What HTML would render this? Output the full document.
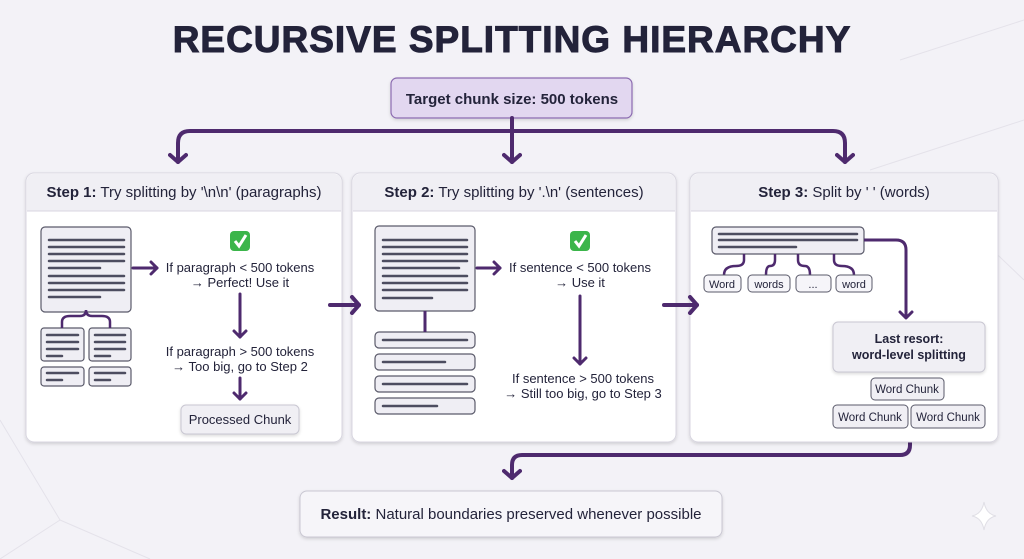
<!DOCTYPE html>
<html><head><meta charset="utf-8"><style>
html,body{margin:0;padding:0;background:#f3f2f7;}
svg{display:block;font-family:"Liberation Sans","DejaVu Sans",sans-serif;}
</style></head><body>
<svg width="1024" height="559" viewBox="0 0 1024 559" xmlns="http://www.w3.org/2000/svg">
<defs>
<filter id="sh" x="-10%" y="-10%" width="120%" height="130%"><feDropShadow dx="0" dy="1.5" stdDeviation="1.5" flood-color="#000" flood-opacity="0.15"/></filter>
<marker id="ah" markerWidth="20" markerHeight="20" refX="10" refY="10" orient="auto" markerUnits="userSpaceOnUse"><path d="M3,2 L10,10 L3,18" fill="none" stroke="#4e2a6e" stroke-width="4" stroke-linecap="round" stroke-linejoin="round"/></marker>
<marker id="as" markerWidth="16" markerHeight="16" refX="8" refY="8" orient="auto" markerUnits="userSpaceOnUse"><path d="M2,2 L8,8 L2,14" fill="none" stroke="#4e2a6e" stroke-width="3" stroke-linecap="round" stroke-linejoin="round"/></marker>
</defs>
<rect width="1024" height="559" fill="#f3f2f7"/>
<g stroke="#e4e2ea" stroke-width="1" fill="none">
<path d="M0,420 L60,520 L0,559"/><path d="M60,520 L150,559"/><path d="M870,170 L1024,120"/><path d="M940,200 L1024,280"/><path d="M900,60 L1024,20"/>
</g>
<text x="512" y="52" text-anchor="middle" font-size="37" font-weight="bold" fill="#23233a" letter-spacing="1" stroke="#23233a" stroke-width="1">RECURSIVE SPLITTING HIERARCHY</text>
<rect x="391" y="78" width="241" height="40" rx="6" fill="#e2d7f0" stroke="#8b6bb0" stroke-width="1.2" filter="url(#sh)"/>
<text x="512" y="104" text-anchor="middle" font-size="15" font-weight="bold" fill="#23233a">Target chunk size: 500 tokens</text>
<g stroke="#4e2a6e" stroke-width="4" fill="none" stroke-linecap="round">
<path d="M512,118 V162" marker-end="url(#ah)"/>
<path d="M512,131 H190 Q178,131 178,143 V162" marker-end="url(#ah)"/>
<path d="M512,131 H833 Q845,131 845,143 V162" marker-end="url(#ah)"/>
<path d="M910,434 V445 Q910,455 900,455 H522 Q512,455 512,465 V478" marker-end="url(#ah)"/>
</g>
<!-- panels -->
<g filter="url(#sh)">
<rect x="26" y="173" width="316" height="269" rx="8" fill="#fff" stroke="#d8d6e0"/>
<rect x="352" y="173" width="324" height="269" rx="8" fill="#fff" stroke="#d8d6e0"/>
<rect x="690" y="173" width="308" height="269" rx="8" fill="#fff" stroke="#d8d6e0"/>
</g>
<path d="M27,211 V181 Q27,174 34,174 H334 Q341,174 341,181 V211 Z" fill="#f0eff4"/>
<path d="M353,211 V181 Q353,174 360,174 H668 Q675,174 675,181 V211 Z" fill="#f0eff4"/>
<path d="M691,211 V181 Q691,174 698,174 H990 Q997,174 997,181 V211 Z" fill="#f0eff4"/>
<g stroke="#d8d6e0"><line x1="27" y1="211" x2="341" y2="211"/><line x1="353" y1="211" x2="675" y2="211"/><line x1="691" y1="211" x2="997" y2="211"/></g>
<g stroke="#4e2a6e" stroke-width="4" fill="none" stroke-linecap="round">
<path d="M330,305 H359" marker-end="url(#ah)"/>
<path d="M664,305 H697" marker-end="url(#ah)"/>
</g>
<g font-size="15" fill="#23233a" text-anchor="middle">
<text x="184" y="197"><tspan font-weight="bold">Step 1:</tspan> Try splitting by '\n\n' (paragraphs)</text>
<text x="514" y="197"><tspan font-weight="bold">Step 2:</tspan> Try splitting by '.\n' (sentences)</text>
<text x="844" y="197"><tspan font-weight="bold">Step 3:</tspan> Split by ' ' (words)</text>
</g>
<!-- panel1 -->
<g fill="#efeef4" stroke="#5a5a6a" stroke-width="1.2">
<rect x="41" y="227" width="90" height="85" rx="4"/>
<rect x="41" y="328" width="43" height="33" rx="3"/><rect x="89" y="328" width="42" height="33" rx="3"/>
<rect x="41" y="367" width="43" height="19" rx="3"/><rect x="89" y="367" width="42" height="19" rx="3"/>
</g>
<g stroke="#4d4d60" stroke-width="2.5" stroke-linecap="round">
<line x1="49" y1="240" x2="124" y2="240"/><line x1="49" y1="247" x2="124" y2="247"/><line x1="49" y1="254" x2="124" y2="254"/><line x1="49" y1="261" x2="124" y2="261"/><line x1="49" y1="268" x2="100" y2="268"/><line x1="49" y1="276" x2="124" y2="276"/><line x1="49" y1="283" x2="124" y2="283"/><line x1="49" y1="290" x2="124" y2="290"/><line x1="49" y1="297" x2="100" y2="297"/>
<line x1="47" y1="335" x2="78" y2="335"/><line x1="47" y1="342" x2="78" y2="342"/><line x1="47" y1="349" x2="78" y2="349"/><line x1="47" y1="356" x2="62" y2="356"/>
<line x1="95" y1="335" x2="125" y2="335"/><line x1="95" y1="342" x2="125" y2="342"/><line x1="95" y1="349" x2="125" y2="349"/><line x1="95" y1="356" x2="110" y2="356"/>
<line x1="47" y1="373" x2="78" y2="373"/><line x1="47" y1="380" x2="62" y2="380"/>
<line x1="95" y1="373" x2="125" y2="373"/><line x1="95" y1="380" x2="110" y2="380"/>
</g>
<path d="M62,328 V322 Q62,316 70,316 H80 Q86,316 86,310 Q86,316 92,316 H102 Q110,316 110,322 V328" fill="none" stroke="#4e2a6e" stroke-width="2.5"/>
<g stroke="#4e2a6e" stroke-width="3" fill="none" stroke-linecap="round">
<path d="M133,268 H157" marker-end="url(#as)"/>
<path d="M240,294 V337" marker-end="url(#as)"/>
<path d="M240,378 V399" marker-end="url(#as)"/>
</g>
<rect x="230" y="231" width="20" height="20" rx="4" fill="#3bb54a"/><path d="M235,241 L239,246 L246,235" stroke="#fff" stroke-width="3" fill="none"/>
<g font-size="13" fill="#23233a" text-anchor="middle">
<text x="240" y="272">If paragraph &lt; 500 tokens</text><text x="240" y="287">→ Perfect! Use it</text>
<text x="240" y="356">If paragraph &gt; 500 tokens</text><text x="240" y="371">→ Too big, go to Step 2</text>
</g>
<rect x="181" y="405" width="118" height="29" rx="5" fill="#f0eff4" stroke="#c9c7d2" filter="url(#sh)"/>
<text x="240" y="424" text-anchor="middle" font-size="13" fill="#23233a">Processed Chunk</text>
<!-- panel2 -->
<g fill="#efeef4" stroke="#5a5a6a" stroke-width="1.2">
<rect x="375" y="226" width="100" height="85" rx="4"/>
<rect x="375" y="332" width="100" height="16" rx="4"/><rect x="375" y="354" width="100" height="16" rx="4"/><rect x="375" y="376" width="100" height="16" rx="4"/><rect x="375" y="398" width="100" height="16" rx="4"/>
</g>
<line x1="425" y1="311" x2="425" y2="332" stroke="#4e2a6e" stroke-width="3"/>
<g stroke="#4d4d60" stroke-width="2.5" stroke-linecap="round">
<line x1="383" y1="240" x2="467" y2="240"/><line x1="383" y1="247" x2="467" y2="247"/><line x1="383" y1="254" x2="467" y2="254"/><line x1="383" y1="261" x2="467" y2="261"/><line x1="383" y1="268" x2="459" y2="268"/><line x1="383" y1="276" x2="467" y2="276"/><line x1="383" y1="283" x2="467" y2="283"/><line x1="383" y1="290" x2="467" y2="290"/><line x1="383" y1="298" x2="432" y2="298"/>
<line x1="383" y1="340" x2="467" y2="340"/><line x1="383" y1="362" x2="445" y2="362"/><line x1="383" y1="384" x2="467" y2="384"/><line x1="383" y1="406" x2="437" y2="406"/>
</g>
<g stroke="#4e2a6e" stroke-width="3" fill="none" stroke-linecap="round">
<path d="M477,268 H500" marker-end="url(#as)"/>
<path d="M580,296 V364" marker-end="url(#as)"/>
</g>
<rect x="570" y="231" width="20" height="20" rx="4" fill="#3bb54a"/><path d="M575,241 L579,246 L586,235" stroke="#fff" stroke-width="3" fill="none"/>
<g font-size="13" fill="#23233a" text-anchor="middle">
<text x="580" y="272">If sentence &lt; 500 tokens</text><text x="580" y="287">→ Use it</text>
<text x="583" y="383">If sentence &gt; 500 tokens</text><text x="583" y="398">→ Still too big, go to Step 3</text>
</g>
<!-- panel3 -->
<rect x="712" y="227" width="152" height="27" rx="4" fill="#efeef4" stroke="#5a5a6a" stroke-width="1.2"/>
<g stroke="#4d4d60" stroke-width="2.5" stroke-linecap="round">
<line x1="719" y1="234" x2="857" y2="234"/><line x1="719" y1="240" x2="857" y2="240"/><line x1="719" y1="247" x2="796" y2="247"/>
</g>
<g stroke="#4e2a6e" stroke-width="2.5" fill="none">
<path d="M744,254 V260 Q744,266 736,266 Q724,266 724,275"/>
<path d="M775,254 V260 Q775,266 770,266 Q766,266 766,275"/>
<path d="M798,254 V260 Q798,266 805,266 Q810,266 810,275"/>
<path d="M834,254 V260 Q834,266 842,266 Q854,266 854,275"/>
</g>
<path d="M864,240 H896 Q906,240 906,250 V318" stroke="#4e2a6e" stroke-width="3" fill="none" marker-end="url(#as)"/>
<g fill="#f6f5f9" stroke="#5a5a6a" stroke-width="1">
<rect x="704" y="275" width="37" height="17" rx="4"/><rect x="748" y="275" width="42" height="17" rx="4"/><rect x="796" y="275" width="35" height="17" rx="4"/><rect x="836" y="275" width="36" height="17" rx="4"/>
</g>
<g font-size="11" fill="#23233a" text-anchor="middle">
<text x="722" y="288">Word</text><text x="769" y="288">words</text><text x="813" y="288">...</text><text x="854" y="288">word</text>
</g>
<rect x="833" y="322" width="152" height="50" rx="5" fill="#f0eff4" stroke="#c9c7d2" filter="url(#sh)"/>
<text x="909" y="343" text-anchor="middle" font-size="12.5" font-weight="bold" fill="#23233a">Last resort:</text>
<text x="909" y="359" text-anchor="middle" font-size="12.5" font-weight="bold" fill="#23233a">word-level splitting</text>
<g fill="#f0eff4" stroke="#5a5a6a" stroke-width="1">
<rect x="871" y="378" width="73" height="22" rx="4"/><rect x="833" y="405" width="75" height="23" rx="4"/><rect x="911" y="405" width="74" height="23" rx="4"/>
</g>
<g font-size="11.5" fill="#23233a" text-anchor="middle">
<text x="907" y="393">Word Chunk</text><text x="870" y="421">Word Chunk</text><text x="948" y="421">Word Chunk</text>
</g>
<!-- result -->
<rect x="300" y="491" width="422" height="46" rx="7" fill="#f6f5f9" stroke="#c9c7d2" filter="url(#sh)"/>
<text x="511" y="519" text-anchor="middle" font-size="15" fill="#23233a"><tspan font-weight="bold">Result:</tspan> Natural boundaries preserved whenever possible</text>
<path d="M984,502 Q986,514 996,516 Q986,518 984,530 Q982,518 972,516 Q982,514 984,502 Z" fill="#fff" stroke="#e0dfe6"/>
</svg>
</body></html>
